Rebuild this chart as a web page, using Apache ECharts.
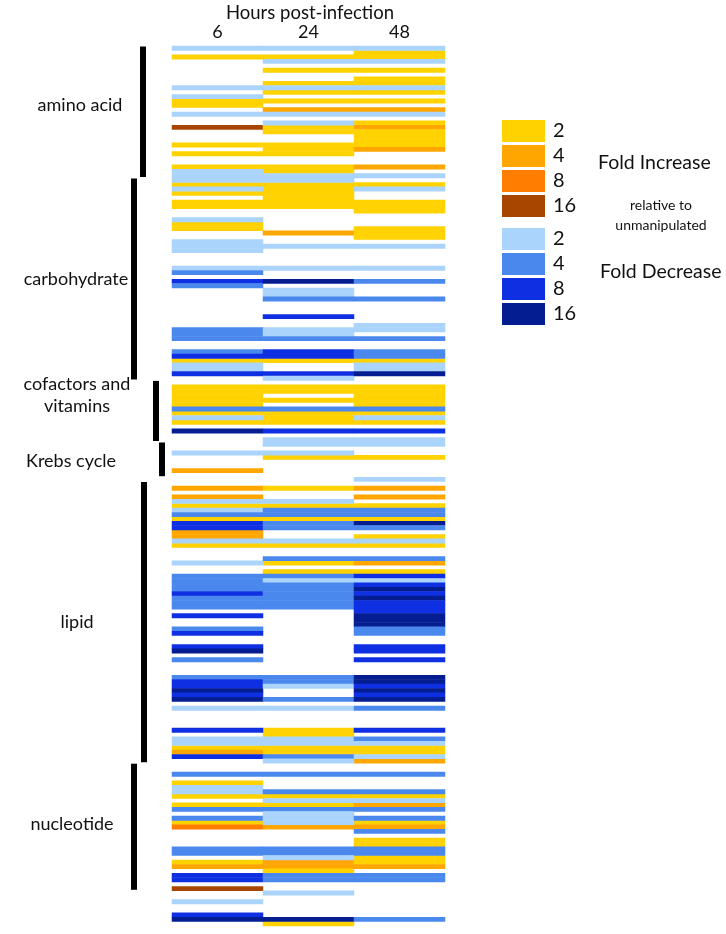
<!DOCTYPE html>
<html><head><meta charset="utf-8">
<script src="https://cdn.jsdelivr.net/npm/echarts@6/dist/echarts.min.js"></script>
<style>html,body{margin:0;padding:0;background:#fff}#c{width:726px;height:934px}</style>
</head><body><div id="c"></div>
<script>
// codes: 1..4 = fold increase 2,4,8,16 ; -1..-4 = fold decrease 2,4,8,16 ; 0 = no change
const columns = ['6', '24', '48'];
const col6 = [
 -1,0,1,0,0,0,0,0,0,-1,
 0,-1,1,1,0,-1,0,0,4,0,
 0,0,1,0,1,0,0,1,-1,-1,
 -1,1,-1,1,0,1,1,0,0,-1,
 1,1,0,0,-1,-1,-1,0,0,0,
 -1,-2,0,-3,-2,0,0,0,0,0,
 0,0,0,0,-2,-2,-2,0,0,-2,
 -3,1,-1,-1,-3,0,0,1,1,1,
 1,1,-2,1,-1,1,0,-4,0,0,
 0,0,-1,0,0,0,2,0,0,0,
 2,0,2,-1,1,-1,-2,1,-3,-3,
 2,2,-1,1,0,0,0,-1,0,0,
 -2,-2,-2,-2,-3,-2,-2,-2,0,-3,
 0,0,-2,-3,0,0,-3,-4,0,-2,
 0,0,0,-2,-3,-3,-4,-3,-4,0,
 -1,0,0,0,0,-3,0,-1,-1,1,
 2,-3,0,0,0,-2,0,1,-1,-1,
 1,0,1,-2,0,-2,1,3,0,0,
 0,0,-2,-2,0,1,2,0,-3,-3,
 0,4,0,0,-1,0,0,-3,-4,0
];
const col24 = [
 -1,0,1,-1,0,1,0,0,1,-1,
 1,0,1,0,2,-1,0,-1,1,1,
 0,0,1,1,1,0,0,1,1,-1,
 -1,1,1,1,1,1,1,0,0,0,
 0,0,2,0,0,-1,0,0,0,0,
 -1,0,0,-4,0,-1,-1,-2,0,0,
 0,-3,0,0,-1,-1,-2,0,0,-3,
 -3,1,0,0,-3,-1,0,1,1,0,
 1,0,-2,1,1,1,0,-3,0,-1,
 -1,0,-1,1,0,0,0,0,0,0,
 1,0,0,-1,1,-2,-2,1,-2,-2,
 0,0,-1,1,0,0,-2,1,0,1,
 -2,-1,-2,-2,-2,-2,-2,-2,0,0,
 0,0,0,0,0,0,0,0,0,0,
 0,0,0,-2,-2,-1,0,0,-2,0,
 -1,0,0,0,0,1,1,-1,-1,1,
 1,-2,-1,0,0,-2,0,0,0,-2,
 1,-1,1,-2,-1,-1,-1,2,0,0,
 0,0,-2,-2,-1,2,2,1,-2,-2,
 0,0,-1,0,0,0,0,0,-4,1
];
const col48 = [
 -1,1,1,-1,0,1,0,1,1,-1,
 1,0,1,0,2,-1,0,1,2,1,
 1,1,1,2,0,0,0,2,0,-1,
 0,1,-1,0,0,1,1,1,0,0,
 0,1,1,1,0,-1,0,0,0,0,
 -1,0,0,-2,0,0,0,-2,0,0,
 0,0,0,-1,-1,0,-2,0,0,-2,
 -2,1,-1,-1,-4,0,0,1,1,1,
 1,1,-2,1,-1,1,0,-3,0,-1,
 -1,0,0,1,0,0,0,0,-1,0,
 2,0,2,0,1,-2,-2,1,-4,-2,
 0,1,-1,1,0,0,-2,2,0,1,
 -3,-1,-3,-4,-3,-4,-3,-3,-3,-4,
 -4,-4,-2,-2,0,0,-3,-3,0,-3,
 0,0,0,-4,-4,-3,-4,-3,-4,0,
 -2,0,0,0,0,-3,0,-2,-1,1,
 1,-1,2,0,0,-2,0,0,0,-2,
 1,-1,2,-2,0,-2,1,2,-2,0,
 1,1,-2,-2,1,1,2,0,-2,-2,
 0,0,0,0,0,0,0,0,-2,0
];
const groupNames = ['amino acid', 'carbohydrate', 'cofactors and\nvitamins', 'Krebs cycle', 'lipid', 'nucleotide'];
const groupStart = [0, 30, 76, 90, 99, 163];
const groupEnd = [29, 75, 89, 97, 162, 191];
const increaseCodes = [1, 2, 3, 4];
const decreaseCodes = [-1, -2, -3, -4];
const foldLabels = ['2', '4', '8', '16'];

// styles
const incColors = ['#FFD200', '#FFA600', '#FF7D00', '#A84600'];
const decColors = ['#AAD4FB', '#4A88EE', '#0F30E2', '#041E92'];
const barX = [140, 131, 153, 159, 141, 131];
const labelX = [80, 76, 77, 71, 77, 72];
const labelDy = [-7, 0, -16, 2, 0, -3];
const FONT = 'Lato, "Open Sans", sans-serif';

const allCols = [col6, col24, col48];
const rowCats = col6.map((_, i) => String(i));
function build(pos) {
  const d = [];
  allCols.forEach((arr, ci) => arr.forEach((v, ri) => {
    if (pos ? v > 0 : v < 0) d.push([ci, ri, v]);
  }));
  return d;
}

const chart = echarts.init(document.getElementById('c'), null, {renderer: 'canvas'});
const vmCommon = {
  type: 'piecewise', dimension: 2, orient: 'vertical', align: 'left',
  left: 502, padding: 0, itemWidth: 43, itemHeight: 22, itemGap: 3, textGap: 8,
  itemSymbol: 'rect', selectedMode: false, hoverLink: false,
  textStyle: {fontSize: 20, color: '#111', fontFamily: FONT}
};
const option = {
  animation: false,
  backgroundColor: '#fff',
  grid: {left: 172, top: 46, width: 273, height: 880},
  xAxis: {
    type: 'category', data: columns, position: 'top',
    axisLine: {show: false}, axisTick: {show: false}, splitLine: {show: false},
    axisLabel: {fontSize: 18, color: '#111', margin: 5, fontFamily: FONT}
  },
  yAxis: {
    type: 'category', data: rowCats, inverse: true,
    axisLine: {show: false}, axisTick: {show: false}, axisLabel: {show: false}, splitLine: {show: false}
  },
  visualMap: [
    Object.assign({}, vmCommon, {
      seriesIndex: 0, top: 120, inverse: true,
      pieces: increaseCodes.map((c, i) => ({value: c, label: foldLabels[i], color: incColors[i]}))
    }),
    Object.assign({}, vmCommon, {
      seriesIndex: 1, top: 228,
      pieces: decreaseCodes.map((c, i) => ({value: c, label: foldLabels[i], color: decColors[i]}))
    })
  ],
  series: [
    {type: 'heatmap', data: build(true), itemStyle: {borderWidth: 0}, emphasis: {disabled: true}, silent: true},
    {type: 'heatmap', data: build(false), itemStyle: {borderWidth: 0}, emphasis: {disabled: true}, silent: true}
  ]
};
chart.setOption(option);

const yc = r => chart.convertToPixel({gridIndex: 0}, [0, r])[1];
const band = Math.abs(yc(1) - yc(0));
const graphics = [
  {type: 'text', x: 310, y: 13, style: {text: 'Hours post-infection', font: '18.5px ' + FONT, fill: '#111', textAlign: 'center', textVerticalAlign: 'middle'}},
  {type: 'text', x: 598, y: 163, style: {text: 'Fold Increase', font: '19.5px ' + FONT, fill: '#111', textAlign: 'left', textVerticalAlign: 'middle'}},
  {type: 'text', x: 661, y: 205, style: {text: 'relative to', font: '14px ' + FONT, fill: '#111', textAlign: 'center', textVerticalAlign: 'middle'}},
  {type: 'text', x: 661, y: 225, style: {text: 'unmanipulated', font: '14px ' + FONT, fill: '#111', textAlign: 'center', textVerticalAlign: 'middle'}},
  {type: 'text', x: 600, y: 272, style: {text: 'Fold Decrease', font: '19.5px ' + FONT, fill: '#111', textAlign: 'left', textVerticalAlign: 'middle'}}
];
groupNames.forEach((name, i) => {
  const top = yc(groupStart[i]) - band / 2 + 0.5;
  const bottom = yc(groupEnd[i]) + band / 2 - 1;
  graphics.push({type: 'rect', shape: {x: barX[i], y: top, width: 6, height: bottom - top}, style: {fill: '#000'}});
  graphics.push({type: 'text', x: labelX[i], y: (top + bottom) / 2 + labelDy[i],
    style: {text: name, font: '18px ' + FONT, fill: '#111', textAlign: 'center', textVerticalAlign: 'middle', lineHeight: 22}});
});
chart.setOption({graphic: graphics});
</script>
</body></html>
